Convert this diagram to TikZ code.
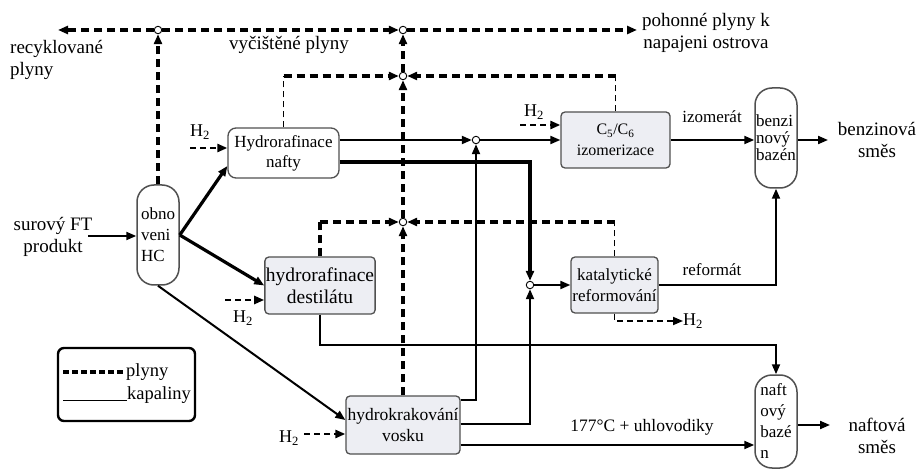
\documentclass[tikz,border=0pt]{standalone}
\usepackage{fontspec}
\setmainfont{Liberation Serif}
\usetikzlibrary{arrows.meta}
\definecolor{boxfill}{HTML}{EDEEF3}
\definecolor{boxline}{HTML}{505050}
\begin{document}
\begin{tikzpicture}[x=1pt,y=-1pt,
  gas/.style={line width=3.4pt,dash pattern=on 8pt off 5pt},
  gasthin/.style={line width=1.8pt,dash pattern=on 6pt off 4pt},
  htwo/.style={line width=2.4pt,dash pattern=on 6pt off 4pt},
  liq/.style={line width=2pt},
  liqthick/.style={line width=3.2pt},
  tip/.style={-{Triangle[length=10pt,width=8pt]}},
  proc/.style={draw=boxline,line width=1.3pt,rounded corners=4pt,fill=boxfill,align=center,inner sep=1pt,font=\fontsize{17}{20}\selectfont},
  pool/.style={draw=boxline,line width=1.5pt,rounded corners=17pt,fill=white,align=left,inner sep=1pt,minimum width=42pt,font=\fontsize{17}{21}\selectfont},
  junc/.style={circle,draw,fill=white,line width=0.9pt,inner sep=0pt,minimum size=7.5pt},
  lab/.style={font=\fontsize{19}{22.5}\selectfont,align=center,inner sep=0pt},
  slab/.style={font=\fontsize{17}{20}\selectfont,inner sep=0pt},
  hlab/.style={font=\fontsize{18}{20}\selectfont,inner sep=0pt},
]
\fill[white] (0,0) rectangle (918,470);
\useasboundingbox (0,0) rectangle (918,470);

% process nodes
\node[pool,minimum height=100pt] (obn) at (158,235) {obno\\veni\\HC};
\node[proc,fill=white,rounded corners=8pt,minimum width=111pt,minimum height=50pt] (hn) at (283.5,153) {Hydrorafinace\\nafty};
\node[proc,minimum width=110pt,minimum height=57pt,font=\fontsize{19.5}{22}\selectfont] (hd) at (320,285.5) {hydrorafinace\\destilátu};
\node[proc,minimum width=114pt,minimum height=58pt,font=\fontsize{17.5}{21}\selectfont] (hk) at (403,425) {hydrokrakování\\vosku};
\node[proc,minimum width=109pt,minimum height=56pt,font=\fontsize{16}{21}\selectfont] (iz) at (615.5,140) {C\textsubscript{5}/C\textsubscript{6}\\izomerizace};
\node[proc,minimum width=87pt,minimum height=56pt,font=\fontsize{17}{21}\selectfont] (kr) at (614.5,285) {katalytické\\reformování};
\node[pool,minimum height=100pt,font=\fontsize{17}{17}\selectfont] (bb) at (776,138) {benzi\\nový\\bazén};
\node[pool,minimum height=93pt,font=\fontsize{17}{21}\selectfont] (nb) at (776,421.5) {naft\\ový\\bazé\\n};

% text labels
\node[lab,align=left,anchor=west] (rec) at (10,60) {recyklované\\plyny};
\node[lab] (vyc) at (289,45) {vyčištěné plyny};
\node[lab] (poh) at (706,33) {pohonné plyny k\\napajeni ostrova};
\node[lab] (sur) at (53,237) {surový FT\\produkt};
\node[slab] (izl) at (712,117) {izomerát};
\node[lab] (ben) at (877,140) {benzinová\\směs};
\node[slab] (refl) at (712,270) {reformát};
\node[lab] (naf) at (877,436) {naftová\\směs};
\node[slab,font=\fontsize{17.5}{20}\selectfont] (uhl) at (642,427) {177°C + uhlovodiky};

% free ends
\coordinate (recE) at (58,30);
\coordinate (pohE) at (637,30);
\coordinate (feed) at (88,236);
\coordinate (bout) at (828,140);
\coordinate (nout) at (830,425);

% junctions
\node[junc] (j1) at (158,30) {};
\node[junc] (j2) at (403,30) {};
\node[junc] (j3) at (403,76) {};
\node[junc] (j4) at (403,222) {};
\node[junc] (j5) at (476,140) {};
\node[junc] (j6) at (530,285) {};

% gas lines
\draw[gas,tip] (obn) -- (j1);
\draw[gas,tip] (j1) -- (recE);
\draw[gas,tip] (j1) -- (j2);
\draw[gas,tip] (j2) -- (pohE);
\draw[gas,tip] (hk) -- (j4);
\draw[gas,tip] (j4) -- (j3);
\draw[gas,tip] (j3) -- (j2);
\draw[gasthin] (hn.north) -- (hn.north |- j3);
\draw[gas,tip] (hn.north |- j3) -- (j3);
\draw[gasthin] (iz.north) -- (iz.north |- j3);
\draw[gas,tip] (iz.north |- j3) -- (j3);
\draw[gas] (hd.north) -- (hd.north |- j4);
\draw[gas,tip] (hd.north |- j4) -- (j4);
\draw[gasthin] (kr.north) -- (kr.north |- j4);
\draw[gas,tip] (kr.north |- j4) -- (j4);

% hydrogen
\coordinate (h2a) at (190,148);
\node[hlab] (h2al) at (200,132) {H\textsubscript{2}};
\draw[htwo,tip] (h2a) -- (h2a -| hn.west);
\coordinate (h2b) at (520,125);
\node[hlab] (h2bl) at (534,112) {H\textsubscript{2}};
\draw[htwo,tip] (h2b) -- (h2b -| iz.west);
\coordinate (h2c) at (225,300);
\node[hlab] (h2cl) at (243,318) {H\textsubscript{2}};
\draw[htwo,tip] (h2c) -- (h2c -| hd.west);
\coordinate (h2d) at (304,434);
\node[hlab] (h2dl) at (289,438) {H\textsubscript{2}};
\draw[htwo,tip] (h2d) -- (h2d -| hk.west);
\node[hlab,anchor=west] (h2e) at (683,321) {H\textsubscript{2}};
\draw[gasthin,tip] (kr.south) |- (h2e.west);

% liquid lines
\draw[liq,tip] (feed) -- (feed -| obn.west);
\draw[liqthick,tip] (obn.east) -- ([yshift=-13pt]hn.west);
\draw[liqthick,tip] (obn.east) -- (hd.west);
\draw[liq,tip] (obn.south) -- ([yshift=5pt]hk.west);
\draw[liq,tip] (hn.east |- j5) -- (j5);
\draw[liq,tip] (j5) -- (iz.west |- j5);
\draw[liqthick,tip] ([yshift=-9pt]hn.east) -| (j6);
\draw[liq,tip] (j6) -- (kr.west |- j6);
\draw[liq,tip] ([yshift=25pt]hk.east) -| (j5);
\draw[liq,tip] ([yshift=1pt]hk.east) -| (j6);
\coordinate (hk3) at ([yshift=-20pt]hk.east);
\draw[liq,tip] (hk3) -- (hk3 -| nb.west);
\draw[liq,tip] (hd.south) -- ++(0,30) -| (nb.north);
\draw[liq,tip] (iz.east) -- (iz.east -| bb.west);
\draw[liq,tip] (kr.east) -| (bb.south);
\draw[liq,tip] (iz.east -| bb.east) -- (bout);
\draw[liq,tip] (nb.east |- nout) -- (nout);

% legend
\node[draw,line width=2.4pt,rounded corners=6pt,minimum width=137pt,minimum height=73pt] (leg) at (126.5,384.5) {};
\coordinate (lg1) at (63,372);
\coordinate (lg2) at (125,372);
\coordinate (lg3) at (63,400);
\coordinate (lg4) at (127,400);
\draw[line width=3.4pt,dash pattern=on 6pt off 3pt] (lg1) -- (lg2);
\node[anchor=west,inner sep=1pt,font=\fontsize{18.5}{20}\selectfont] (lgp) at (lg2) {plyny};
\draw[line width=0.9pt] (lg3) -- (lg4);
\node[anchor=base west,inner sep=0pt,font=\fontsize{18.5}{20}\selectfont] (lgk) at ([yshift=1pt]lg4) {kapaliny};
\end{tikzpicture}
\end{document}
